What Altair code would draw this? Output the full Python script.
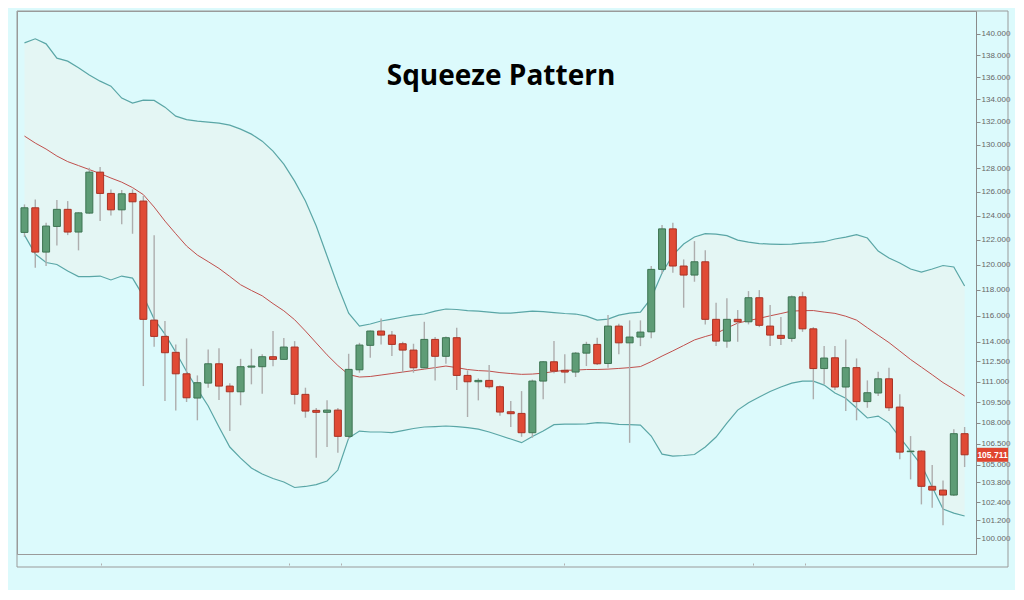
import altair as alt
import pandas as pd

# ---- candle data ----
open_ = [122.62, 124.65, 121.02, 123.11, 124.52, 122.65, 124.21, 127.65, 125.85, 124.48,
         125.85, 125.21, 115.65, 114.40, 113.19, 111.58, 109.79, 110.89, 112.33, 110.67,
         110.25, 112.08, 112.11, 112.86, 112.66, 113.59, 110.06, 108.89, 108.75, 108.91,
         107.02, 111.88, 113.72, 114.81, 114.50, 113.84, 113.36, 112.03, 114.17, 112.89,
         114.30, 111.46, 110.99, 111.09, 110.62, 108.79, 108.67, 107.28, 111.04, 112.48,
         111.84, 111.71, 113.13, 113.79, 112.35, 115.19, 113.91, 114.35, 114.75, 119.63,
         122.91, 119.90, 119.18, 120.24, 115.71, 114.04, 115.71, 115.52, 117.39, 115.19,
         114.48, 114.25, 117.46, 114.98, 111.97, 112.78, 110.60, 112.04, 109.53, 110.16,
         111.21, 109.13, 105.93, 105.97, 103.51, 103.25, 102.91, 107.21]
close = [124.65, 121.02, 123.14, 124.52, 122.65, 124.23, 127.65, 125.85, 124.48, 125.82,
         125.15, 115.71, 114.40, 113.16, 111.58, 109.81, 110.92, 112.33, 110.67, 110.25,
         112.11, 112.16, 112.86, 112.66, 113.59, 110.06, 108.84, 108.75, 108.91, 107.02,
         111.91, 113.74, 114.81, 114.50, 113.79, 113.36, 112.03, 114.17, 112.89, 114.30,
         111.46, 110.99, 111.09, 110.62, 108.77, 108.65, 107.28, 111.04, 112.48, 111.78,
         111.71, 113.13, 113.79, 112.33, 115.19, 113.91, 114.35, 114.73, 119.63, 122.91,
         119.90, 119.18, 120.24, 115.71, 114.04, 115.71, 115.52, 117.39, 115.25, 114.50,
         114.25, 117.46, 114.98, 111.97, 112.76, 110.60, 112.04, 109.53, 110.18, 111.21,
         109.08, 105.90, 105.97, 103.51, 103.25, 102.91, 107.21, 105.711]
high = [124.93, 125.35, 123.41, 125.29, 125.21, 124.29, 128.02, 128.08, 126.19, 126.13,
        126.19, 125.63, 122.38, 115.58, 113.79, 114.25, 111.46, 113.41, 113.49, 110.87,
        112.70, 113.46, 113.04, 114.81, 114.27, 114.04, 110.55, 109.06, 109.62, 109.06,
        113.08, 113.91, 114.86, 115.78, 114.81, 113.99, 113.84, 115.52, 114.35, 114.39,
        115.06, 111.84, 111.24, 112.23, 110.72, 109.57, 110.30, 111.15, 112.53, 114.04,
        113.04, 113.21, 113.99, 114.30, 116.04, 115.37, 115.63, 115.63, 119.90, 123.22,
        123.41, 120.43, 121.91, 121.16, 116.99, 117.34, 116.43, 117.91, 117.99, 116.82,
        115.89, 117.56, 117.86, 115.11, 113.66, 113.66, 114.16, 112.73, 111.09, 111.73,
        112.03, 110.06, 107.04, 106.04, 104.99, 103.92, 107.52, 107.69]
low = [122.24, 119.76, 119.90, 121.56, 122.40, 121.16, 124.15, 123.55, 124.02, 123.28,
       122.51, 110.67, 113.61, 109.57, 108.89, 109.50, 108.17, 110.55, 109.64, 107.40,
       109.26, 110.80, 110.10, 112.14, 112.61, 109.33, 108.36, 105.50, 106.26, 105.85,
       106.83, 111.66, 112.78, 113.79, 112.91, 111.66, 111.66, 111.98, 111.09, 112.33,
       110.38, 108.41, 109.62, 110.50, 108.50, 107.69, 106.99, 106.92, 109.70, 111.63,
       110.87, 111.34, 112.16, 112.23, 112.03, 113.04, 106.56, 113.66, 114.25, 119.28,
       119.36, 116.61, 118.65, 115.32, 113.66, 113.54, 113.99, 115.32, 115.11, 113.66,
       113.74, 113.99, 114.75, 109.70, 110.80, 110.38, 108.84, 108.17, 109.08, 109.94,
       108.84, 105.39, 103.99, 102.27, 102.04, 100.85, 102.84, 104.85]

# ---- Bollinger bands ----
upper = [139.15, 139.53, 139.06, 137.74, 137.46, 136.85, 136.19, 135.64, 135.19, 134.12,
         133.67, 133.94, 133.91, 133.31, 132.51, 132.20, 132.07, 131.98, 131.90, 131.72,
         131.37, 130.93, 130.32, 129.45, 128.34, 126.89, 125.21, 123.14, 120.70, 118.31,
         116.19, 115.19, 115.35, 115.58, 115.73, 115.89, 116.04, 116.12, 116.35, 116.51,
         116.47, 116.39, 116.35, 116.27, 116.19, 116.19, 116.27, 116.35, 116.31, 116.23,
         116.16, 116.12, 115.96, 115.65, 115.73, 116.04, 116.19, 116.27, 117.36, 119.34,
         120.78, 121.67, 122.24, 122.52, 122.48, 122.36, 121.99, 121.83, 121.71, 121.67,
         121.64, 121.67, 121.75, 121.79, 121.86, 122.08, 122.24, 122.44, 122.16, 121.10,
         120.54, 120.14, 119.66, 119.42, 119.66, 119.94, 119.82, 118.31]
middle = [130.76, 130.15, 129.63, 129.03, 128.55, 128.21, 127.87, 127.53, 127.15, 126.80,
          126.34, 125.75, 124.71, 123.55, 122.51, 121.51, 120.78, 120.25, 119.71, 119.07,
          118.41, 117.96, 117.54, 116.93, 116.37, 115.68, 114.81, 113.90, 113.00, 112.20,
          111.52, 111.34, 111.38, 111.49, 111.60, 111.71, 111.82, 111.93, 112.04, 112.16,
          112.04, 111.90, 111.82, 111.78, 111.67, 111.60, 111.54, 111.56, 111.63, 111.75,
          111.84, 111.86, 111.90, 111.90, 111.93, 111.98, 112.04, 112.12, 112.49, 112.91,
          113.30, 113.71, 114.13, 114.39, 114.62, 115.04, 115.42, 115.61, 115.79, 115.98,
          116.16, 116.35, 116.38, 116.39, 116.27, 116.17, 115.95, 115.65, 115.06, 114.49,
          113.93, 113.29, 112.65, 112.08, 111.51, 110.93, 110.45, 109.94]
lower = [122.40, 120.86, 120.18, 120.02, 119.50, 119.06, 119.06, 119.10, 118.79, 119.10,
         118.94, 117.52, 115.73, 114.58, 113.21, 111.75, 110.45, 109.21, 107.69, 106.26,
         105.48, 104.78, 104.36, 104.05, 103.81, 103.43, 103.50, 103.63, 103.88, 104.64,
         106.90, 107.40, 107.33, 107.33, 107.29, 107.43, 107.58, 107.69, 107.72, 107.76,
         107.72, 107.65, 107.54, 107.33, 107.08, 106.83, 106.57, 107.01, 107.40, 107.86,
         107.90, 107.90, 107.92, 108.01, 107.97, 107.88, 107.86, 107.83, 107.04, 105.76,
         105.62, 105.66, 105.73, 106.26, 106.97, 107.97, 108.91, 109.45, 109.86, 110.27,
         110.60, 110.89, 111.04, 111.04, 110.74, 110.16, 109.77, 109.06, 108.34, 108.48,
         107.97, 106.94, 105.97, 104.99, 103.46, 101.95, 101.68, 101.48]

y_ticks = [100.0, 101.2, 102.4, 103.8, 105.0, 106.5, 108.0, 109.5, 111.0, 112.5, 114.0,
           116.0, 118.0, 120.0, 122.0, 124.0, 126.0, 128.0, 130.0, 132.0, 134.0, 136.0,
           138.0, 140.0]
x_ticks = [8.1, 25.5, 30.3, 50.95, 68.4, 73.2]
title_text = "Squeeze Pattern"

n = len(open_)
df = pd.DataFrame({
    "i": list(range(1, n + 1)),
    "open": open_, "close": close, "high": high, "low": low,
    "upper": upper, "middle": middle, "lower": lower,
})
df["dir"] = ["up" if c >= o else "down" for o, c in zip(open_, close)]

W, H = 959, 543
xs = alt.Scale(domain=[0.771, 88.59], nice=False, zero=False)
ys = alt.Scale(type="log", domain=[98.94, 142.14], nice=False, zero=False)

yaxis = alt.Axis(orient="right", values=y_ticks, format=".3f", grid=False,
                 labelFontSize=8, labelColor="#666666", labelFont="Liberation Sans",
                 tickColor="#8a8a8a", tickSize=4, labelPadding=1,
                 domainColor="#8a8a8a", title=None)
xaxis = alt.Axis(values=x_ticks, labels=False, domain=False, grid=False,
                 tickSize=2, offset=9, tickColor="#b0b0b0", title=None)

base = alt.Chart(df)
X = alt.X("i:Q", scale=xs, axis=xaxis)

band = base.mark_area(color="#e4f6f4").encode(
    x=X, y=alt.Y("lower:Q", scale=ys, axis=yaxis), y2="upper:Q")
up_line = base.mark_line(color="#5aa6a6", strokeWidth=1.2).encode(
    x=alt.X("i:Q", scale=xs), y=alt.Y("upper:Q", scale=ys))
lo_line = base.mark_line(color="#5aa6a6", strokeWidth=1.2).encode(
    x=alt.X("i:Q", scale=xs), y=alt.Y("lower:Q", scale=ys))
mid_line = base.mark_line(color="#c0504d", strokeWidth=1).encode(
    x=alt.X("i:Q", scale=xs), y=alt.Y("middle:Q", scale=ys))

wicks = base.mark_rule(color="#adadad", strokeWidth=1.4).encode(
    x=alt.X("i:Q", scale=xs), y=alt.Y("low:Q", scale=ys), y2="high:Q")
bodies = base.mark_bar(size=7, strokeWidth=1).encode(
    x=alt.X("i:Q", scale=xs), y=alt.Y("open:Q", scale=ys), y2="close:Q",
    color=alt.Color("dir:N", scale=alt.Scale(domain=["up", "down"], range=["#5e9c76", "#e04a35"]), legend=None),
    stroke=alt.Stroke("dir:N", scale=alt.Scale(domain=["up", "down"], range=["#3d7452", "#a83224"]), legend=None),
)

last = alt.Chart(df.tail(1))
price_box = last.mark_rule(color="#e0452f", strokeWidth=14).encode(
    y=alt.Y("close:Q", scale=ys), x=alt.value(960), x2=alt.value(991))
price_txt = last.mark_text(color="white", fontWeight="bold", fontSize=8.5,
                           font="Liberation Sans", align="center", baseline="middle").encode(
    y=alt.Y("close:Q", scale=ys), x=alt.value(975.5), text=alt.Text("close:Q", format=".3f"))

frame = alt.Chart(pd.DataFrame({"a": [0]})).mark_rect(
    filled=False, stroke="#9a9a9a", strokeWidth=1).encode(
    x=alt.value(0), x2=alt.value(991), y=alt.value(0), y2=alt.value(556))

title = alt.Chart(pd.DataFrame({"t": [title_text]})).mark_text(
    font="Open Sans", fontSize=28, fontWeight="bold", color="#000000",
    align="center", baseline="middle").encode(
    text="t:N", x=alt.value(484), y=alt.value(66))

chart = alt.layer(
    band, up_line, lo_line, mid_line, wicks, bodies, frame, price_box, price_txt, title
).properties(
    width=W, height=H,
    padding={"left": 8, "top": 2, "right": 0, "bottom": 22},
    background="#dcfafc",
).configure_view(
    stroke="#9a9a9a", strokeWidth=1
)

chart.save("out.html", embed_options={"renderer": "svg", "actions": False})
